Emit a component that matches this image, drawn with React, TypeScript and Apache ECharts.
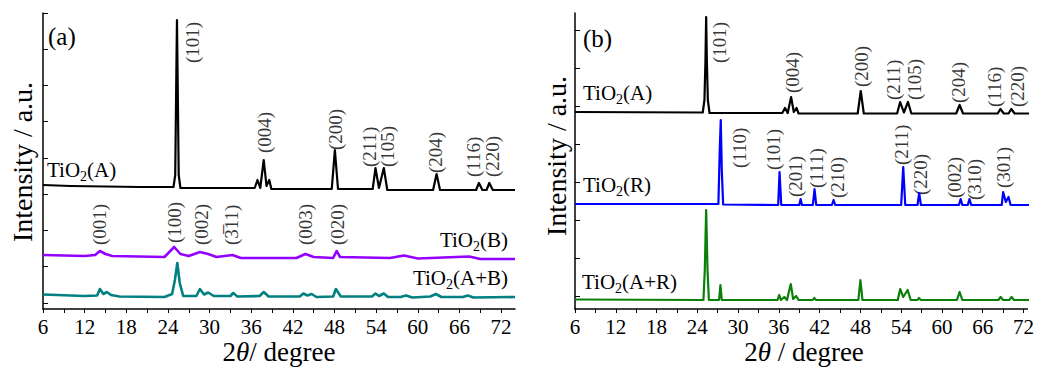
import React, { useEffect, useRef } from "react";
import * as echarts from "echarts";

const FONT = '"Liberation Serif", "Times New Roman", serif';

// x-axis ticks (degrees)
const xLabelValues = [6, 12, 18, 24, 30, 36, 42, 48, 54, 60, 66, 72];
const xTickValues = [6, 9, 12, 15, 18, 21, 24, 27, 30, 33, 36, 39, 42, 45, 48, 51, 54, 57, 60, 63, 66, 69, 72];
const yTickValuesA = [6, 42.5, 79, 115, 151, 187.5, 224, 260, 296];
const yTickValuesB = [13, 51, 89, 127, 165, 203, 241, 279];

// Panel (a)
const anataseA: number[][] = [
  [6, 124], [10, 123], [20, 122], [24.8, 122], [25.05, 134], [25.2, 229], [25.3, 289], [25.4, 229], [25.55, 134], [25.8, 121],
  [30, 121], [36.5, 121], [36.9, 129], [37.3, 121], [37.8, 149], [38.2, 123], [38.6, 129], [38.9, 120],
  [47.6, 120], [48.05, 159], [48.5, 120], [53.5, 120], [53.9, 141], [54.4, 121], [55.1, 141], [55.6, 119],
  [62.2, 119], [62.7, 135], [63.2, 119], [68.4, 119], [68.8, 126], [69.3, 119], [69.9, 119], [70.3, 126], [70.8, 119], [74, 119],
];
const bronzeB: number[][] = [
  [6, 54], [12, 53], [13.5, 54], [14.2, 58], [15, 55], [16, 53], [23.5, 52], [24.9, 62], [25.8, 55], [27, 53],
  [28.6, 57], [29.8, 55], [31, 52], [33.3, 54], [34.5, 51], [42.5, 51], [43.8, 55], [45, 52], [47.8, 51], [48.3, 58],
  [48.8, 52], [56, 51], [58, 53.5], [60, 50.5], [67.4, 52.5], [69, 50], [74, 50],
];
const mixAB: number[][] = [
  [6, 14.5], [12, 13], [13.8, 13.5], [14.2, 20], [14.7, 15], [15.2, 17], [15.8, 14], [17, 12.5], [23.5, 12], [24.6, 15],
  [25.0, 29], [25.35, 46], [25.7, 26], [26.2, 13], [28.1, 13], [28.6, 20], [29.2, 14.5], [29.8, 16.5], [30.6, 13],
  [33, 13], [33.4, 16], [34, 12.5], [37.2, 13], [37.8, 17], [38.5, 12.5], [43, 12.5], [43.5, 15.5], [44.1, 13.5],
  [44.7, 15], [45.4, 12], [47.8, 12.5], [48.2, 20], [48.9, 12.5], [53.4, 12.5], [53.9, 15.5], [54.4, 13], [55.1, 15.5],
  [55.7, 12], [57.5, 12], [58.3, 13.5], [59.2, 11.5], [61.8, 12.5], [62.6, 15], [63.4, 12], [66.5, 12], [67.2, 13.5],
  [68, 11.5], [74, 12],
];

// Panel (b)
const anataseB: number[][] = [
  [6, 197], [24.8, 196.5], [25.05, 209], [25.2, 249], [25.3, 292], [25.4, 249], [25.55, 209], [25.8, 196],
  [36.5, 196], [36.9, 201], [37.3, 196], [37.8, 212], [38.2, 197], [38.6, 201], [38.9, 195.5],
  [47.6, 195.5], [48.05, 218], [48.5, 195.5], [53.4, 195.5], [53.85, 207], [54.4, 196.5], [55.0, 207], [55.5, 195.5],
  [62.1, 195.5], [62.6, 204], [63.1, 195.5], [68.2, 195.5], [68.6, 200], [69.1, 195.5], [69.8, 195.5], [70.2, 200],
  [70.7, 195.5], [74, 195.5],
];
const rutileR: number[][] = [
  [6, 105], [27.1, 105], [27.3, 159], [27.45, 189], [27.6, 139], [27.8, 104.5], [35.9, 104], [36.1, 137], [36.35, 104],
  [39.0, 104], [39.2, 110], [39.4, 104], [41.0, 104], [41.25, 120], [41.5, 104], [43.8, 104], [44.05, 109], [44.3, 104],
  [54.0, 104], [54.3, 142], [54.6, 104], [56.4, 104], [56.65, 116], [56.9, 104], [62.5, 104], [62.75, 110], [63.0, 104],
  [63.8, 104], [64.05, 110], [64.3, 104], [68.8, 104], [69.0, 117], [69.4, 107], [69.8, 112], [70.1, 104], [74, 104],
];
const mixAR: number[][] = [
  [6, 9.5], [24.9, 9], [25.1, 39], [25.3, 99], [25.5, 39], [25.7, 9], [27.2, 9], [27.4, 24], [27.6, 9],
  [35.8, 9], [36.05, 14], [36.3, 9], [36.8, 12], [37.2, 9], [37.75, 25], [38.1, 10], [38.55, 13], [38.9, 9],
  [41.0, 9], [41.2, 11], [41.5, 9], [47.7, 9], [48.0, 29], [48.3, 9], [53.5, 9], [53.85, 20], [54.3, 12], [54.95, 19],
  [55.4, 9], [56.4, 9], [56.6, 11], [56.9, 9], [62.2, 9], [62.6, 17], [63.0, 9], [68.3, 9], [68.65, 12], [69.0, 9],
  [69.9, 9], [70.25, 12], [70.6, 9], [74, 9],
];

// Peak index labels: [x (deg), y (bottom of label), text]
const peakLabelsA: [number, number, string][] = [
  [27.6, 246, "(101)"], [37.85, 156, "(004)"], [48.1, 159, "(200)"], [53.1, 142, "(211)"], [55.6, 142, "(105)"],
  [62.5, 136, "(204)"], [68.0, 132, "(116)"], [70.8, 132, "(220)"],
  [14.2, 64, "(001)"], [24.9, 66, "(100)"], [28.9, 64, "(002)"], [33.2, 64, "(3\u030511)"], [43.75, 64, "(003)"], [48.4, 64, "(020)"],
];
const peakLabelsB: [number, number, string][] = [
  [27.3, 246, "(101)"], [38.0, 216, "(004)"], [48.1, 222, "(200)"], [52.8, 209, "(211)"], [56.0, 209, "(105)"],
  [62.5, 206, "(204)"], [67.8, 202, "(116)"], [71.1, 202, "(220)"],
  [30.2, 141, "(110)"], [35.25, 139, "(101)"], [38.4, 112, "(201)"], [41.6, 121, "(111)"], [44.6, 111, "(210)"],
  [54.0, 144, "(211)"], [56.9, 114, "(220)"], [61.8, 111, "(002)"], [64.8, 109, "(310)"], [69.1, 121, "(301)"],
];

const COLORS = { a: "#000000", b: "#9400ff", ab: "#008080", r: "#0000ff", ar: "#0a800a" };

function xAxis(gridIndex: number, max: number) {
  return {
    type: "value", gridIndex, min: 6, max,
    axisLine: { show: true, lineStyle: { color: "#000", width: 1.5 } },
    axisTick: { show: true, inside: false, length: 4, lineStyle: { color: "#000", width: 1 }, customValues: xTickValues },
    axisLabel: { show: true, customValues: xLabelValues, margin: 7, color: "#000", fontFamily: FONT, fontSize: 21, hideOverlap: false },
    splitLine: { show: false },
  };
}
function yAxis(gridIndex: number, ticks: number[]) {
  return {
    type: "value", gridIndex, min: 0, max: 296,
    axisLine: { show: true, onZero: false, lineStyle: { color: "#000", width: 1.5 } },
    axisTick: { show: true, inside: true, length: 5, lineStyle: { color: "#000", width: 1 }, customValues: ticks },
    axisLabel: { show: false },
    splitLine: { show: false },
  };
}
function lineSeries(data: number[][], color: string, idx: number, width: number) {
  return {
    type: "line", xAxisIndex: idx, yAxisIndex: idx, data, showSymbol: false, symbol: "none",
    lineStyle: { color, width, join: "round" }, silent: true,
  };
}
function labelSeries(labels: [number, number, string][], idx: number) {
  return {
    type: "scatter", xAxisIndex: idx, yAxisIndex: idx, symbolSize: 1, silent: true,
    itemStyle: { color: "rgba(0,0,0,0)" },
    data: labels.map((l) => ({ value: [l[0], l[1]], name: l[2] })),
    label: {
      show: true, formatter: "{b}", position: "inside", rotate: 90, align: "left", verticalAlign: "middle",
      color: "#000", fontFamily: FONT, fontSize: 19,
    },
  };
}

function seriesName(x: number, y: number, inner: string, align: string) {
  return {
    type: "text", x, y,
    style: {
      text: `{n|TiO}{s|2}{n|${inner}}`, align, verticalAlign: "middle",
      rich: {
        n: { fontFamily: FONT, fontSize: 21, fill: "#000", color: "#000" },
        s: { fontFamily: FONT, fontSize: 14, fill: "#000", color: "#000", padding: [13, 0, 0, 0] },
      },
    },
  };
}

export default function App() {
  const ref = useRef<HTMLDivElement>(null);
  useEffect(() => {
    if (!ref.current) return;
    const chart = echarts.init(ref.current, null, { renderer: "svg" });
    const titleRich = {
      n: { fontFamily: FONT, fontSize: 27, color: "#000", fill: "#000" },
      i: { fontFamily: FONT, fontSize: 27, fontStyle: "italic", color: "#000", fill: "#000" },
    };
    chart.setOption({
      animation: false,
      backgroundColor: "#ffffff",
      grid: [
        { left: 43, top: 13, width: 472, height: 296, containLabel: false },
        { left: 575, top: 13, width: 462, height: 296, containLabel: false },
      ],
      xAxis: [xAxis(0, 74), xAxis(1, 72.57)],
      yAxis: [yAxis(0, yTickValuesA), yAxis(1, yTickValuesB)],
      series: [
        lineSeries(anataseA, COLORS.a, 0, 2.2),
        lineSeries(bronzeB, COLORS.b, 0, 2.6),
        lineSeries(mixAB, COLORS.ab, 0, 2.6),
        labelSeries(peakLabelsA, 0),
        lineSeries(anataseB, COLORS.a, 1, 2.2),
        lineSeries(rutileR, COLORS.r, 1, 2.2),
        lineSeries(mixAR, COLORS.ar, 1, 2.2),
        labelSeries(peakLabelsB, 1),
      ],
      graphic: [
        { type: "text", x: 48, y: 36, style: { text: "(a)", font: `25px ${FONT}`, fill: "#000", align: "left", verticalAlign: "middle" } },
        { type: "text", x: 583, y: 38, style: { text: "(b)", font: `25px ${FONT}`, fill: "#000", align: "left", verticalAlign: "middle" } },
        seriesName(47, 170, "(A)", "left"),
        seriesName(508, 240, "(B)", "right"),
        seriesName(508, 278, "(A+B)", "right"),
        seriesName(583, 93, "(A)", "left"),
        seriesName(583, 185, "(R)", "left"),
        seriesName(582, 282, "(A+R)", "left"),
        { type: "text", x: 22, y: 162, rotation: Math.PI / 2, style: { text: "Intensity / a.u.", font: `28px ${FONT}`, fill: "#000", align: "center", verticalAlign: "middle" } },
        { type: "text", x: 556, y: 156, rotation: Math.PI / 2, style: { text: "Intensity / a.u.", font: `28px ${FONT}`, fill: "#000", align: "center", verticalAlign: "middle" } },
        { type: "text", x: 279, y: 352, style: { text: "{n|2}{i|θ}{n|/ degree}", rich: titleRich, align: "center", verticalAlign: "middle" } },
        { type: "text", x: 804, y: 352, style: { text: "{n|2}{i|θ}{n| / degree}", rich: titleRich, align: "center", verticalAlign: "middle" } },
      ],
    });
    return () => chart.dispose();
  }, []);
  return <div ref={ref} style={{ position: "absolute", left: 0, top: 0, width: 1037, height: 368 }} />;
}
